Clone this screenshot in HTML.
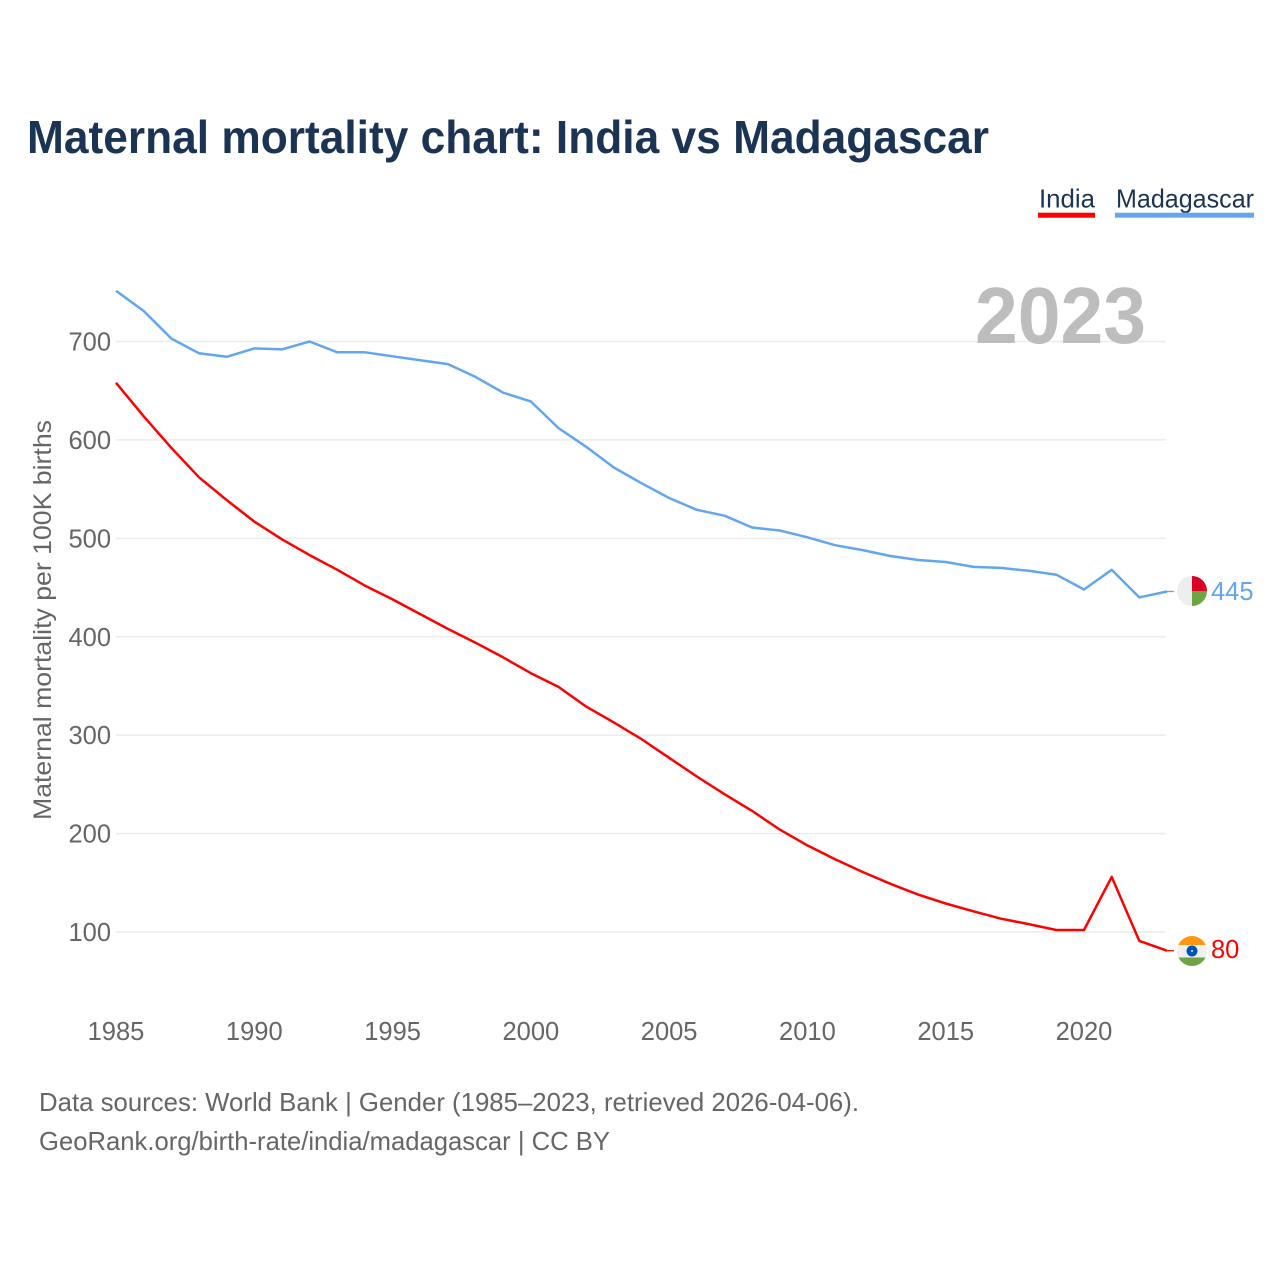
<!DOCTYPE html>
<html lang="en">
<head>
<meta charset="utf-8">
<title>Maternal mortality chart: India vs Madagascar</title>
<style>
html,body{margin:0;padding:0;background:#fff;}
svg{display:block;}
text{font-family:"Liberation Sans",sans-serif;}
</style>
</head>
<body>
<svg id="chart" xmlns="http://www.w3.org/2000/svg" width="1280" height="1280" viewBox="0 0 1280 1280">
  <defs>
    <clipPath id="flag-clip-mg"><circle cx="1192" cy="591" r="15"/></clipPath>
    <clipPath id="flag-clip-in"><circle cx="1192" cy="951" r="15"/></clipPath>
  </defs>
  <rect width="1280" height="1280" fill="#ffffff"/>
  <text x="27" y="153" font-size="46" font-weight="700" fill="#1b3454" textLength="962" lengthAdjust="spacingAndGlyphs">Maternal mortality chart: India vs Madagascar</text>

  <g>
    <text x="1039" y="207.500" font-size="26" fill="#1b3454" textLength="56" lengthAdjust="spacingAndGlyphs">India</text>
    <rect x="1038" y="212.700" width="57" height="5" fill="#ff0000"/>
  </g>
  <g>
    <text x="1116" y="207.500" font-size="26" fill="#1b3454" textLength="138" lengthAdjust="spacingAndGlyphs">Madagascar</text>
    <rect x="1115" y="212.700" width="139" height="5" fill="#63a6ee"/>
  </g>

  <g id="grid"></g>
  <text x="975" y="343" font-size="80" font-weight="700" fill="#bdbdbd" textLength="171" lengthAdjust="spacingAndGlyphs">2023</text>
  <g id="y-ticks"></g>
  <g id="x-ticks"></g>
  <text transform="translate(51 820) rotate(-90)" x="0" y="0" font-size="25" fill="#666666" textLength="400" lengthAdjust="spacingAndGlyphs">Maternal mortality per 100K births</text>

  <g id="series"></g>

  <g clip-path="url(#flag-clip-mg)">
    <rect x="1177" y="576" width="15" height="30" fill="#eeeeee"/>
    <rect x="1192" y="576" width="15" height="15" fill="#d80027"/>
    <rect x="1192" y="591" width="15" height="15" fill="#6da544"/>
  </g>
  <g clip-path="url(#flag-clip-in)">
    <rect x="1177" y="936" width="30" height="9" fill="#ff9811"/>
    <rect x="1177" y="945" width="30" height="12.500" fill="#f0f0f0"/>
    <rect x="1177" y="957.500" width="30" height="9" fill="#6da544"/>
    <circle cx="1192" cy="951" r="5.500" fill="#0052b4"/>
    <circle cx="1192" cy="951" r="1.200" fill="#a8c4e8"/>
  </g>
  <text x="1211" y="600" font-size="25.5" fill="#63a6ee">445</text>
  <text x="1211" y="958" font-size="25.5" fill="#ff0000">80</text>

  <text x="39" y="1111" font-size="26" fill="#666666" textLength="820" lengthAdjust="spacingAndGlyphs">Data sources: World Bank | Gender (1985–2023, retrieved 2026-04-06).</text>
  <text x="39" y="1150" font-size="26" fill="#666666" textLength="571" lengthAdjust="spacingAndGlyphs">GeoRank.org/birth-rate/india/madagascar | CC BY</text>
</svg>
<script>
const years = [1985,1986,1987,1988,1989,1990,1991,1992,1993,1994,1995,1996,1997,1998,1999,2000,2001,2002,2003,2004,2005,2006,2007,2008,2009,2010,2011,2012,2013,2014,2015,2016,2017,2018,2019,2020,2021,2022,2023];
const india = [658,624,592,562,539,517,499,483,468,452,438,423,408,394,379,363,349,329,313,296,277,258,240,223,204,188,174,161,149,138,129,121,113.500,108,102,102,156,91,81];
const madagascar = [751.500,731,703,688,684.500,693,692,700,689,689,685,681,677,664,648,639,612,593,572,556,541,529,523,511,508,501,493,488,482,478,476,471,470,467,463,448,468,440,446];
const yTickValues = [100,200,300,400,500,600,700];
const xTickValues = [1985,1990,1995,2000,2005,2010,2015,2020];

const NS = 'http://www.w3.org/2000/svg';
function xScale(year) { return 116 + (year - 1985) * (968 / 35); }
function yScale(value) { return 932 - (value - 100) * (590.5 / 600); }

const gridGroup = document.getElementById('grid');
const yTickGroup = document.getElementById('y-ticks');
const xTickGroup = document.getElementById('x-ticks');
const seriesGroup = document.getElementById('series');

yTickValues.forEach(function (v) {
  const line = document.createElementNS(NS, 'line');
  
  
  line.setAttribute('x1', 116);
  line.setAttribute('x2', 1166);
  line.setAttribute('y1', yScale(v));
  line.setAttribute('y2', yScale(v));
  line.setAttribute('stroke', '#ececec');
  line.setAttribute('stroke-width', '1.5');
  gridGroup.appendChild(line);

  const label = document.createElementNS(NS, 'text');
  
  
  label.setAttribute('x', 111);
  label.setAttribute('y', yScale(v) + 9);
  label.setAttribute('text-anchor', 'end');
  label.setAttribute('font-size', '25.5');
  label.setAttribute('fill', '#666666');
  label.textContent = v;
  yTickGroup.appendChild(label);
});

xTickValues.forEach(function (year) {
  const label = document.createElementNS(NS, 'text');
  
  
  label.setAttribute('x', xScale(year));
  label.setAttribute('y', 1040);
  label.setAttribute('text-anchor', 'middle');
  label.setAttribute('font-size', '25.5');
  label.setAttribute('fill', '#666666');
  label.textContent = year;
  xTickGroup.appendChild(label);
});

function drawSeries(name, values, color) {
  const points = values.map(function (v, i) {
    return xScale(years[i]).toFixed(1) + ',' + yScale(v).toFixed(1);
  });
  const line = document.createElementNS(NS, 'polyline');
  
  
  line.setAttribute('points', points.join(' '));
  line.setAttribute('fill', 'none');
  line.setAttribute('stroke', color);
  line.setAttribute('stroke-width', '2.5');
  line.setAttribute('stroke-linejoin', 'round');
  seriesGroup.appendChild(line);

  const lastValue = values[values.length - 1];
  const connector = document.createElementNS(NS, 'line');
  
  
  connector.setAttribute('x1', xScale(years[years.length - 1]));
  connector.setAttribute('x2', 1174);
  connector.setAttribute('y1', yScale(lastValue));
  connector.setAttribute('y2', yScale(lastValue));
  connector.setAttribute('stroke', color);
  connector.setAttribute('stroke-width', '1.3');
  seriesGroup.appendChild(connector);
}

drawSeries('madagascar', madagascar, '#63a6ee');
drawSeries('india', india, '#ff0000');
</script>
</body>
</html>
